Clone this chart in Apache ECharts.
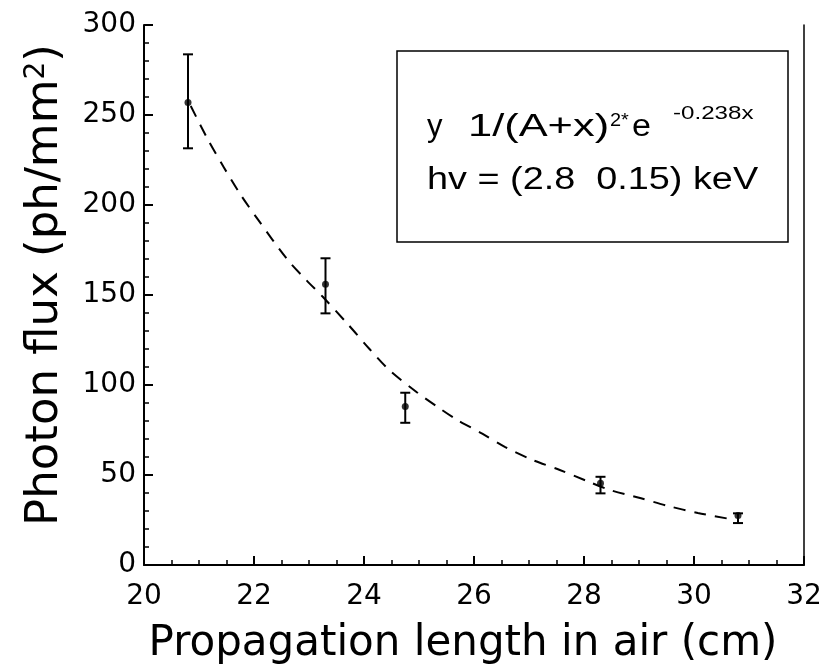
<!DOCTYPE html>
<html>
<head>
<meta charset="utf-8">
<script src="https://cdn.jsdelivr.net/npm/echarts@6/dist/echarts.min.js"></script>
<style>
  html, body { margin: 0; padding: 0; background: #fff; }
  #main { width: 834px; height: 672px; }
</style>
</head>
<body>
<div id="main"></div>
<script>
// measured points with error bars
const xData = [20.8, 23.3, 24.75, 28.3, 30.8];
const yData = [257, 156, 88, 45.4, 27.5];
const yLow = [231.5, 139.8, 79, 39.8, 23.3];
const yHigh = [283.7, 170.4, 95.7, 49, 28.7];

// fitted curve
const fitX = [20.85, 21.15, 21.45, 21.75, 22.07, 22.6, 22.96, 23.25, 23.7, 24.1, 24.47, 24.96, 25.33, 25.7, 26.15, 26.56, 27.07, 27.56, 28.05, 28.47, 29.02, 29.53, 30.07, 30.65];
const fitY = [255, 237, 221, 206, 192, 170, 158, 149, 134, 120, 108, 96, 88, 80.5, 73, 65.6, 58.3, 52.8, 46.7, 41.7, 37.2, 32.8, 28.9, 25.6];

const xTicks = { min: 20, max: 32, interval: 2 };
const yTicks = { min: 0, max: 300, interval: 50 };

const chart = echarts.init(document.getElementById('main'));

const axisFont = 'DejaVu Sans';

const option = {
    animation: false,
    backgroundColor: '#fff',
    grid: { left: 144, right: 30, top: 25, bottom: 107 },
    xAxis: {
        type: 'value',
        min: xTicks.min,
        max: xTicks.max,
        interval: xTicks.interval,
        name: 'Propagation length in air (cm)',
        nameLocation: 'middle',
        nameGap: 58,
        nameTextStyle: { fontFamily: axisFont, fontSize: 42, color: '#000', padding: [0, 22, 0, 0] },
        axisLine: { onZero: false, lineStyle: { color: '#000', width: 2 } },
        axisTick: { inside: true, length: 9, lineStyle: { color: '#000', width: 2 } },
        minorTick: { show: true, splitNumber: 4, length: 5, lineStyle: { color: '#000', width: 1.5 } },
        axisLabel: { fontFamily: axisFont, fontSize: 28, color: '#000', margin: 18 },
        splitLine: { show: false }
    },
    yAxis: [{
        type: 'value',
        min: yTicks.min,
        max: yTicks.max,
        interval: yTicks.interval,
        name: '{t|Photon flux (ph/mm}{s|2}{t|)}',
        nameLocation: 'middle',
        nameGap: 76,
        nameTextStyle: {
            color: '#000',
            padding: [0, 0, 0, 20],
            rich: {
                t: { fontFamily: axisFont, fontSize: 45, color: '#000' },
                s: { fontFamily: axisFont, fontSize: 28, color: '#000', verticalAlign: 'top', padding: [0, 0, 16, 0] }
            }
        },
        axisLine: { onZero: false, lineStyle: { color: '#000', width: 2 } },
        axisTick: { inside: true, length: 9, lineStyle: { color: '#000', width: 2 } },
        minorTick: { show: true, splitNumber: 5, length: 5, lineStyle: { color: '#000', width: 1.5 } },
        axisLabel: { fontFamily: axisFont, fontSize: 28, color: '#000', margin: 8 },
        splitLine: { show: false }
    }, {
        type: 'value',
        position: 'right',
        min: yTicks.min,
        max: yTicks.max,
        axisLine: { show: true, lineStyle: { color: '#000', width: 1.5 } },
        axisTick: { show: false },
        axisLabel: { show: false },
        splitLine: { show: false }
    }],
    series: [
        {
            type: 'line',
            data: fitX.map((x, i) => [x, fitY[i]]),
            smooth: 0.3,
            symbol: 'none',
            lineStyle: { color: '#000', width: 2, type: [12, 9] },
            z: 2
        },
        {
            type: 'custom',
            data: xData.map((x, i) => [x, yLow[i], yHigh[i]]),
            renderItem: function (params, api) {
                const lo = api.coord([api.value(0), api.value(1)]);
                const hi = api.coord([api.value(0), api.value(2)]);
                const hw = 5;
                const st = { stroke: '#000', lineWidth: 2 };
                return {
                    type: 'group',
                    children: [
                        { type: 'line', shape: { x1: hi[0], y1: hi[1], x2: lo[0], y2: lo[1] }, style: st },
                        { type: 'line', shape: { x1: hi[0] - hw, y1: hi[1], x2: hi[0] + hw, y2: hi[1] }, style: st },
                        { type: 'line', shape: { x1: lo[0] - hw, y1: lo[1], x2: lo[0] + hw, y2: lo[1] }, style: st }
                    ]
                };
            },
            z: 3
        },
        {
            type: 'scatter',
            data: xData.map((x, i) => [x, yData[i]]),
            symbol: 'circle',
            symbolSize: 7,
            itemStyle: { color: '#000' },
            z: 4
        }
    ],
    graphic: [
        { type: 'rect', shape: { x: 397, y: 51, width: 391, height: 191 }, style: { fill: '#fff', stroke: '#000', lineWidth: 1.5 }, z: 10 },
        { type: 'text', x: 427, y: 127, style: { text: 'y', font: '31px "Liberation Sans"', fill: '#000', verticalAlign: 'middle' }, z: 11 },
        { type: 'text', x: 468, y: 127, scaleX: 1.4, style: { text: '1/(A+x)', font: '31px "Liberation Sans"', fill: '#000', verticalAlign: 'middle' }, z: 11 },
        { type: 'text', x: 610, y: 121, scaleX: 1.05, style: { text: '2*', font: '19px "Liberation Sans"', fill: '#000', verticalAlign: 'middle' }, z: 11 },
        { type: 'text', x: 632, y: 127, scaleX: 1.1, style: { text: 'e', font: '31px "Liberation Sans"', fill: '#000', verticalAlign: 'middle' }, z: 11 },
        { type: 'text', x: 673, y: 114, scaleX: 1.27, style: { text: '-0.238x', font: '19px "Liberation Sans"', fill: '#000', verticalAlign: 'middle' }, z: 11 },
        { type: 'text', x: 427, y: 180, scaleX: 1.22, style: { text: 'hv = (2.8  0.15) keV', font: '31px "Liberation Sans"', fill: '#000', verticalAlign: 'middle' }, z: 11 }
    ]
};

chart.setOption(option);
</script>
</body>
</html>
